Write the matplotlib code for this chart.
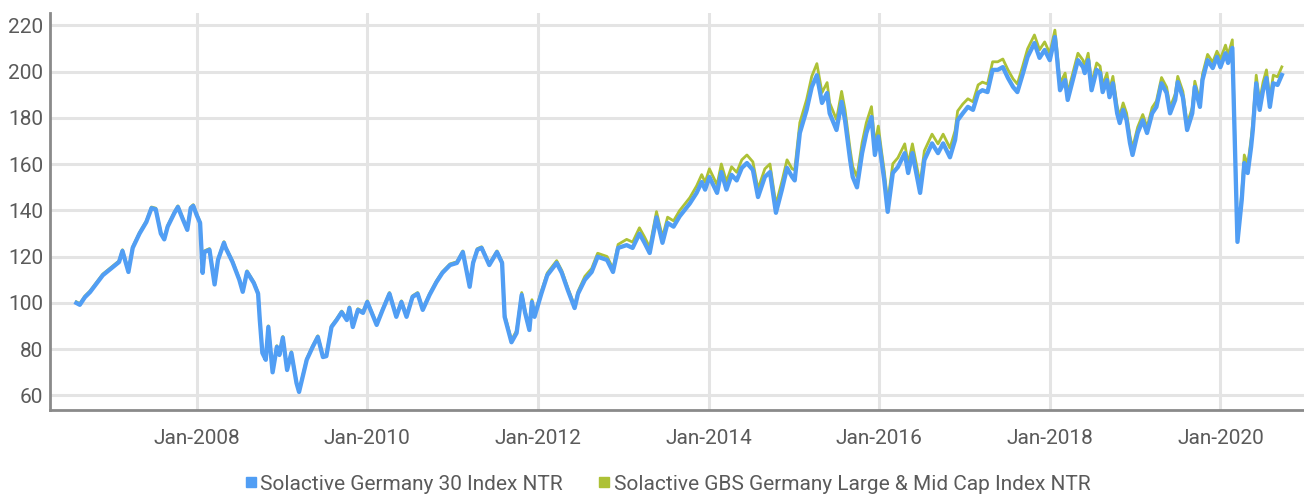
import matplotlib
matplotlib.use("Agg")
import matplotlib.pyplot as plt
from matplotlib.lines import Line2D

plt.rcParams['font.family'] = ['Roboto', 'DejaVu Sans']

# time axis in decimal years, index levels for both series
years = [
    2006.59, 2006.63, 2006.69, 2006.75, 2006.83, 2006.90,
    2007.00, 2007.09, 2007.13, 2007.20, 2007.25, 2007.33, 2007.41, 2007.47, 2007.52, 2007.58, 2007.62, 2007.66, 2007.74, 2007.78, 2007.84, 2007.89, 2007.93, 2007.96,
    2008.00, 2008.04, 2008.07, 2008.09, 2008.15, 2008.21, 2008.25, 2008.32, 2008.34, 2008.42, 2008.50, 2008.54, 2008.59, 2008.67, 2008.72, 2008.74, 2008.77, 2008.81, 2008.84, 2008.89, 2008.94, 2008.97,
    2009.01, 2009.06, 2009.11, 2009.17, 2009.20, 2009.29, 2009.36, 2009.42, 2009.48, 2009.52, 2009.58, 2009.64, 2009.70, 2009.76, 2009.79, 2009.83, 2009.89, 2009.95,
    2010.00, 2010.11, 2010.18, 2010.26, 2010.34, 2010.40, 2010.46, 2010.53, 2010.59, 2010.65, 2010.73, 2010.81, 2010.88, 2010.97,
    2011.05, 2011.12, 2011.20, 2011.24, 2011.29, 2011.34, 2011.43, 2011.52, 2011.58, 2011.61, 2011.69, 2011.75, 2011.81, 2011.85, 2011.90, 2011.93, 2011.96,
    2012.04, 2012.11, 2012.22, 2012.28, 2012.35, 2012.43, 2012.47, 2012.55, 2012.63, 2012.70, 2012.81, 2012.88, 2012.94,
    2013.04, 2013.11, 2013.19, 2013.25, 2013.31, 2013.39, 2013.46, 2013.52, 2013.59, 2013.66, 2013.78, 2013.86, 2013.92, 2013.96,
    2014.01, 2014.10, 2014.15, 2014.21, 2014.27, 2014.33, 2014.39, 2014.45, 2014.52, 2014.58, 2014.66, 2014.72, 2014.79, 2014.86, 2014.92, 2014.98,
    2015.01, 2015.07, 2015.15, 2015.21, 2015.27, 2015.33, 2015.39, 2015.42, 2015.50, 2015.56, 2015.60, 2015.66, 2015.69, 2015.74, 2015.80, 2015.85, 2015.91, 2015.95, 2015.99,
    2016.03, 2016.06, 2016.10, 2016.16, 2016.22, 2016.30, 2016.34, 2016.39, 2016.48, 2016.53, 2016.62, 2016.69, 2016.75, 2016.83, 2016.89, 2016.92, 2016.98,
    2017.04, 2017.10, 2017.16, 2017.21, 2017.27, 2017.33, 2017.39, 2017.45, 2017.51, 2017.57, 2017.62, 2017.68, 2017.74, 2017.82, 2017.88, 2017.94,
    2018.00, 2018.06, 2018.08, 2018.12, 2018.18, 2018.21, 2018.27, 2018.33, 2018.39, 2018.41, 2018.45, 2018.49, 2018.55, 2018.59, 2018.62, 2018.67, 2018.70, 2018.74, 2018.79, 2018.82, 2018.86, 2018.90, 2018.94, 2018.97,
    2019.03, 2019.09, 2019.14, 2019.20, 2019.25, 2019.31, 2019.37, 2019.41, 2019.47, 2019.50, 2019.56, 2019.61, 2019.67, 2019.70, 2019.76, 2019.79, 2019.85, 2019.91, 2019.96,
    2020.00, 2020.06, 2020.09, 2020.14, 2020.16, 2020.19, 2020.20, 2020.25, 2020.28, 2020.32, 2020.36, 2020.38, 2020.42, 2020.46, 2020.50, 2020.54, 2020.58, 2020.62, 2020.67, 2020.72,
]

germany_30 = [
    100.0, 99.2, 102.5, 104.7, 108.6, 112.0,
    115.0, 117.7, 122.5, 113.4, 123.8, 130.0, 135.0, 141.0, 140.5, 130.0, 127.5, 133.0, 139.0, 141.5, 136.0, 131.6, 141.0, 142.0,
    138.0, 134.6, 113.0, 122.0, 123.0, 108.0, 118.6, 126.0, 123.8, 117.7, 110.0, 104.8, 113.4, 108.6, 104.0, 92.6, 78.4, 75.4, 89.6, 70.0, 81.0, 77.5,
    85.0, 71.0, 78.4, 65.4, 61.5, 75.4, 81.0, 85.3, 76.6, 77.0, 89.6, 92.6, 96.0, 92.6, 97.8, 89.6, 97.0, 95.7,
    100.4, 90.5, 97.0, 104.0, 94.0, 100.4, 94.0, 102.6, 104.0, 97.0, 103.5, 109.0, 113.0, 116.4,
    117.3, 122.0, 107.0, 117.3, 123.0, 123.8, 116.4, 122.0, 117.3, 94.0, 83.0, 87.0, 103.5, 95.7, 88.3, 100.4, 94.0,
    104.0, 112.0, 117.3, 113.0, 105.6, 97.8, 104.0, 110.0, 113.4, 120.0, 118.6, 113.4, 123.8,
    125.0, 123.8, 130.0, 126.0, 121.6, 137.0, 126.0, 134.6, 133.0, 137.4, 143.0, 147.6, 152.3, 149.0,
    154.5, 147.6, 156.6, 149.0, 155.4, 153.0, 158.4, 160.5, 157.5, 145.8, 154.5, 156.6, 139.0, 149.0, 158.4, 154.5,
    153.0, 173.5, 183.5, 193.4, 198.5, 186.5, 190.8, 182.0, 174.8, 187.0, 179.0, 161.8, 154.5, 150.0, 164.8, 173.5, 180.4, 164.0, 172.0,
    161.0, 153.0, 139.4, 156.2, 158.8, 164.8, 156.2, 164.8, 147.6, 161.8, 169.0, 164.8, 169.0, 163.0, 170.5, 179.0, 182.0,
    184.8, 183.5, 190.8, 192.0, 191.2, 200.8, 200.8, 202.0, 197.3, 193.4, 191.2, 198.6, 206.4, 212.4, 206.0, 209.4,
    205.0, 215.0, 208.0, 192.0, 196.4, 187.8, 196.4, 205.0, 202.0, 199.4, 205.0, 192.0, 200.8, 199.4, 191.2, 196.4, 189.0, 195.0, 182.0, 177.8, 183.5, 179.1, 169.2, 164.0,
    173.5, 179.0, 173.5, 182.0, 184.8, 195.0, 190.8, 182.0, 187.8, 195.5, 189.0, 174.8, 182.0, 193.4, 184.8, 196.4, 205.0, 201.6, 206.4,
    202.0, 208.0, 203.8, 210.3, 182.0, 139.0, 126.4, 144.5, 160.5, 156.2, 167.5, 174.8, 195.0, 183.5, 192.0, 197.3, 184.8, 195.0, 194.3, 198.6,
]

gbs_large_mid = [
    100.5, 99.7, 103.0, 105.2, 109.1, 112.5,
    115.5, 118.2, 123.0, 113.9, 124.3, 130.5, 135.5, 141.5, 141.0, 130.5, 128.0, 133.5, 139.5, 142.0, 136.5, 132.1, 141.5, 142.5,
    138.5, 135.1, 113.5, 122.5, 123.5, 108.5, 119.1, 126.5, 124.3, 118.2, 110.5, 105.3, 113.9, 109.1, 104.5, 93.1, 78.9, 75.9, 90.1, 70.5, 81.5, 78.0,
    85.5, 71.5, 78.9, 65.9, 62.0, 75.9, 81.5, 85.8, 77.1, 77.5, 90.1, 93.1, 96.5, 93.1, 98.3, 90.1, 97.5, 96.2,
    100.9, 91.0, 97.5, 104.5, 94.5, 100.9, 94.5, 103.1, 104.5, 97.5, 104.0, 109.5, 113.5, 116.9,
    117.8, 122.5, 107.5, 117.8, 123.5, 124.3, 116.9, 122.5, 117.8, 95.0, 84.0, 88.0, 104.5, 96.7, 89.3, 101.4, 95.0,
    105.0, 113.0, 118.3, 114.0, 106.6, 98.8, 105.0, 111.5, 114.9, 121.5, 120.1, 114.9, 125.3,
    127.5, 126.3, 132.5, 128.5, 124.1, 139.5, 128.5, 137.1, 135.5, 139.9, 145.5, 150.6, 155.5, 152.2,
    158.0, 151.1, 160.1, 152.5, 158.9, 156.5, 161.9, 164.0, 161.0, 149.3, 158.0, 160.1, 142.5, 152.5, 161.9, 158.0,
    157.5, 178.0, 188.0, 198.0, 203.5, 191.0, 195.3, 186.5, 179.3, 191.5, 183.5, 166.3, 159.0, 154.5, 169.3, 178.0, 184.9, 168.5, 176.5,
    165.0, 157.0, 143.4, 160.2, 162.8, 168.8, 160.2, 168.8, 151.6, 165.8, 173.0, 168.8, 173.0, 167.0, 174.5, 183.0, 186.0,
    188.3, 187.0, 194.3, 195.5, 194.7, 204.3, 204.3, 205.5, 200.8, 196.9, 194.7, 202.1, 209.9, 215.9, 209.5, 212.9,
    208.0, 218.0, 211.0, 195.0, 199.4, 190.8, 199.4, 208.0, 205.0, 202.4, 208.0, 195.0, 203.8, 202.4, 194.2, 199.4, 192.0, 198.0, 185.0, 180.8, 186.5, 182.1, 172.2, 167.0,
    176.0, 181.5, 176.0, 184.5, 187.3, 197.5, 193.3, 184.5, 190.3, 198.0, 191.5, 177.3, 184.5, 195.9, 187.3, 198.9, 207.5, 204.1, 208.9,
    205.5, 211.5, 207.3, 213.8, 185.0, 141.0, 127.4, 147.5, 164.0, 159.7, 171.0, 178.3, 198.5, 187.0, 195.5, 200.8, 188.3, 198.5, 197.8, 202.1,
]

tick_years = [2008, 2010, 2012, 2014, 2016, 2018, 2020]
tick_labels = ['Jan-%d' % y for y in tick_years]
y_ticks = [60, 80, 100, 120, 140, 160, 180, 200, 220]
names = ['Solactive Germany 30 Index NTR', 'Solactive GBS Germany Large & Mid Cap Index NTR']

blue = '#519ef4'
green = '#adc136'
txt = '#5a5a5a'

fig = plt.figure(figsize=(13.04, 4.98), dpi=100)
ax = fig.add_axes([0.0383, 0.1767, 0.9617, 0.7972])

ax.plot(years, gbs_large_mid, color=green, lw=2.0, solid_joinstyle='round', zorder=3)
ax.plot(years, germany_30, color=blue, lw=3.1, solid_joinstyle='round', zorder=4)

ax.set_xlim(2006.28, 2020.98)
ax.set_ylim(53.7, 225.4)
ax.set_xticks(tick_years)
ax.set_xticklabels(tick_labels)
ax.set_yticks(y_ticks)
ax.grid(True, color='#e4e4e4', lw=2.2, zorder=0)
ax.set_axisbelow(True)
ax.tick_params(axis='both', length=0, labelsize=15, colors=txt)
ax.tick_params(axis='x', pad=14)
ax.tick_params(axis='y', pad=5)

for s in ['top', 'right']:
    ax.spines[s].set_visible(False)
for s in ['left', 'bottom']:
    ax.spines[s].set_color('#8a8a8a')
    ax.spines[s].set_linewidth(2)

handles = [Line2D([], [], ls='none', marker='s', ms=7, color=c) for c in (blue, green)]
fig.legend(handles, names, loc='center', bbox_to_anchor=(0.511, 0.028), ncol=2,
           frameon=False, fontsize=15, labelcolor=txt, handletextpad=0.05,
           columnspacing=1.6, handlelength=0.8)

fig.savefig('out.png', dpi=100)
